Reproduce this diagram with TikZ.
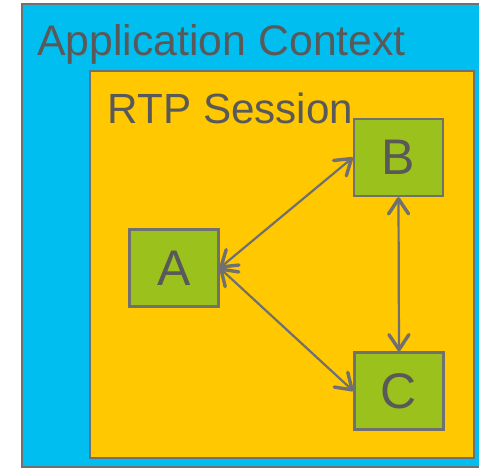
\documentclass[tikz,border=0pt]{standalone}
\usepackage{fontspec}
\setmainfont{Liberation Sans}
\usetikzlibrary{arrows.meta}
\definecolor{ctxblue}{RGB}{0,191,240}
\definecolor{sessyellow}{RGB}{255,200,0}
\definecolor{boxgreen}{RGB}{155,193,28}
\definecolor{edgegray}{RGB}{112,112,112}
\definecolor{txtgray}{RGB}{89,89,89}
\tikzset{
  region/.style={draw=edgegray, line width=2.4pt},
  title/.style={text=txtgray, inner sep=0pt, anchor=base west},
  member/.style={draw=edgegray, line width=2.4pt, fill=boxgreen, text=txtgray,
    minimum width=89pt, minimum height=77pt, inner sep=0pt, font=\fontsize{50}{60}\selectfont},
  link/.style={draw=edgegray, line width=2.2pt,
    {Straight Barb[length=15pt,width=20pt,round,line width=3.4pt]}-{Straight Barb[length=15pt,width=20pt,round,line width=3.4pt]}}
}
\begin{document}
\begin{tikzpicture}[x=1pt,y=-1pt]
\useasboundingbox (0,0) rectangle (479,469);
\begin{scope}
\clip (0,0) rectangle (479,469);
\draw[region, fill=ctxblue] (22,4) rectangle (490,467);
\end{scope}
\draw[region, fill=sessyellow] (90,71) rectangle (474,458);
\node[title, font=\fontsize{42.8}{50}\selectfont] (ctx) at (37,55) {Application Context};
\node[title, font=\fontsize{42.2}{50}\selectfont] (sess) at (107.5,123) {RTP Session};
\node[member] (A) at (174,268) {A};
\node[member] (B) at (398.5,157.5) {B};
\node[member] (C) at (399,391) {C};
\draw[link] (A.east) -- (B.west);
\draw[link] (A.east) -- (C.west);
\draw[link] (B.south) -- (C.north);
\end{tikzpicture}
\end{document}
